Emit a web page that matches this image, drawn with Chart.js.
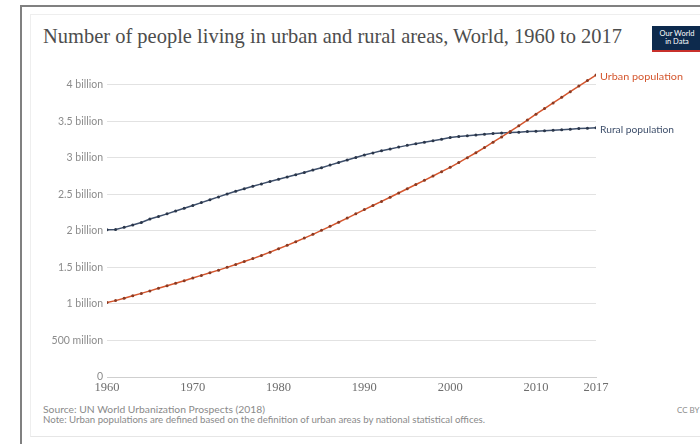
<!DOCTYPE html>
<html><head><meta charset="utf-8">
<script src="https://cdn.jsdelivr.net/npm/chart.js@4/dist/chart.umd.min.js"></script>
<style>
html,body{margin:0;padding:0;background:#fff;width:700px;height:444px;overflow:hidden;font-family:Lato,sans-serif}
#outer{position:absolute;left:20px;top:5px;width:700px;height:440px;border-left:2px solid #808080;border-top:2px solid #808080}
#inner{position:absolute;left:30px;top:14px;width:700px;height:421px;border-left:1px solid #eee;border-top:1px solid #eee;border-bottom:1px solid #e6e6e6}
#title{position:absolute;left:43px;top:24px;font-family:"Liberation Serif","DejaVu Serif",serif;color:#4d4d4d;white-space:nowrap;font-size:21px;transform-origin:0 0}
#logo{position:absolute;left:652px;top:26px;width:50px;height:26px;background:#0d2a4d;color:#fff;font-size:7.5px;line-height:8px;text-align:center;box-sizing:border-box;padding-top:4px;border-bottom:2px solid #c8302b}
.ft{position:absolute;left:43px;font-size:8.5px;color:#8a8a8a;white-space:nowrap;transform-origin:0 0}
#cc{position:absolute;left:677px;top:405px;font-size:8px;color:#8a8a8a}
canvas{position:absolute;left:0;top:0}
</style></head><body>
<div id="outer"></div><div id="inner"></div>
<div id="title">Number of people living in urban and rural areas, World, 1960 to 2017</div>
<div id="logo">Our World<br>in Data</div>
<div class="ft" id="src1" style="top:405px">Source: UN World Urbanization Prospects (2018)</div>
<div class="ft" id="src2" style="top:415px">Note: Urban populations are defined based on the definition of urban areas by national statistical offices.</div>
<div id="cc">CC BY</div>
<canvas id="c" width="700" height="444"></canvas>
<script>
const years = [];
for (let y = 1960; y <= 2017; y++) years.push(y);
const urban = [1.019,1.045,1.078,1.111,1.144,1.178,1.213,1.248,1.283,1.318,
  1.354,1.390,1.426,1.462,1.500,1.538,1.579,1.620,1.663,1.708,
  1.754,1.801,1.850,1.900,1.952,2.006,2.061,2.117,2.174,2.232,
  2.290,2.346,2.402,2.459,2.517,2.575,2.633,2.691,2.750,2.809,
  2.868,2.933,3.000,3.068,3.139,3.212,3.285,3.360,3.437,3.515,
  3.595,3.673,3.750,3.827,3.903,3.980,4.055,4.130];
const rural = [2.013,2.018,2.047,2.080,2.113,2.161,2.196,2.232,2.270,2.308,
  2.346,2.386,2.425,2.464,2.503,2.541,2.575,2.609,2.642,2.674,
  2.704,2.735,2.767,2.799,2.832,2.864,2.899,2.934,2.969,3.004,
  3.037,3.066,3.094,3.120,3.145,3.169,3.191,3.212,3.232,3.254,
  3.276,3.289,3.301,3.312,3.321,3.330,3.337,3.344,3.350,3.357,
  3.363,3.370,3.377,3.384,3.391,3.398,3.404,3.410];
const yTickValues = [0,0.5,1,1.5,2,2.5,3,3.5,4];
const yTickLabels = ["0","500 million","1 billion","1.5 billion","2 billion","2.5 billion","3 billion","3.5 billion","4 billion"];
const xTickValues = [1960,1970,1980,1990,2000,2010,2017];
const seriesNames = ["Urban population","Rural population"];
const seriesColors = ["#d4562e","#3e4f6b"];

function fitWidth(id, target) {
  const e = document.getElementById(id);
  const w = e.getBoundingClientRect().width;
  e.style.transform = 'scaleX(' + (target / w) + ')';
}
fitWidth('title', 579);
fitWidth('src1', 222);
fitWidth('src2', 442);

const endLabels = {
  id: 'endLabels',
  afterDatasetsDraw(chart) {
    const ctx = chart.ctx;
    ctx.save();
    ctx.font = '9.5px Lato';
    ctx.textBaseline = 'middle';
    chart.data.datasets.forEach((ds, i) => {
      const meta = chart.getDatasetMeta(i);
      const p = meta.data[meta.data.length - 1];
      ctx.fillStyle = seriesColors[i];
      const txt = seriesNames[i];
      const target = i === 0 ? 83 : 74;
      const tw = ctx.measureText(txt).width;
      ctx.save();
      ctx.translate(p.x + 4, p.y + 2);
      ctx.scale(target / tw, 1);
      ctx.fillText(txt, 0, 0);
      ctx.restore();
    });
    ctx.restore();
  }
};

new Chart(document.getElementById('c'), {
  type: 'line',
  data: {
    datasets: [
      { label: seriesNames[0], data: years.map((y, i) => ({x: y, y: urban[i]})),
        borderColor: seriesColors[0], backgroundColor: '#8a3a22', borderWidth: 1.5,
        pointRadius: 1.5, pointBorderWidth: 0, tension: 0 },
      { label: seriesNames[1], data: years.map((y, i) => ({x: y, y: rural[i]})),
        borderColor: seriesColors[1], backgroundColor: '#2a364a', borderWidth: 1.5,
        pointRadius: 1.5, pointBorderWidth: 0, tension: 0 }
    ]
  },
  options: {
    responsive: false, animation: false, devicePixelRatio: 1,
    layout: { padding: { left: 0, right: 104, top: 70, bottom: 47 } },
    plugins: { legend: { display: false }, tooltip: { enabled: false } },
    scales: {
      x: {
        type: 'linear', min: 1960, max: 2017,
        afterBuildTicks(s) { s.ticks = xTickValues.map(v => ({value: v})); },
        afterFit(s) { s.height = 20; },
        grid: { display: false, drawTicks: false },
        border: { display: true, color: '#cfcfcf', width: 1 },
        ticks: { color: '#6e6e6e', font: { family: 'Liberation Serif', size: 12.5 }, padding: 3, maxRotation: 0,
          callback: v => String(v) }
      },
      y: {
        type: 'linear', min: 0, max: 4.2,
        afterBuildTicks(s) { s.ticks = yTickValues.map(v => ({value: v})); },
        afterFit(s) { s.width = 107; },
        grid: { color: '#e2e2e2', borderDash: [2, 2], drawTicks: false, lineWidth: 1 },
        border: { display: false },
        ticks: { color: '#8c8c8c', font: { family: 'Lato', size: 10.5 }, padding: 4,
          callback: (v) => { const k = yTickValues.indexOf(v); return k >= 0 ? yTickLabels[k] : ''; } }
      }
    }
  },
  plugins: [endLabels]
});
</script>
</body></html>
